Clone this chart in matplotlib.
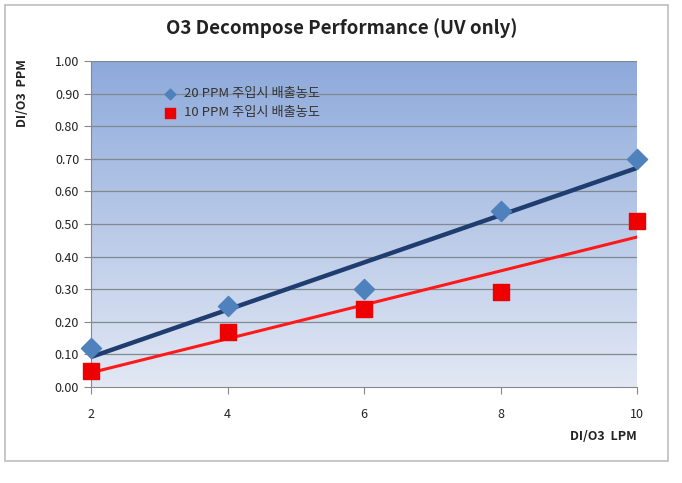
import numpy as np
import matplotlib
matplotlib.use("Agg")
import matplotlib.pyplot as plt
from matplotlib.patches import Rectangle
from matplotlib.colors import LinearSegmentedColormap

plt.rcParams['font.family'] = ['Noto Sans CJK KR', 'DejaVu Sans']

x_vals = [2, 4, 6, 8, 10]
ppm20 = [0.12, 0.25, 0.30, 0.54, 0.70]
ppm10 = [0.05, 0.17, 0.24, 0.29, 0.51]
label20 = "20 PPM 주입시 배출농도"
label10 = "10 PPM 주입시 배출농도"
title = "O3 Decompose Performance (UV only)"
ylabel = "DI/O3  PPM"
xlabel = "DI/O3  LPM"
yticks = [0.0, 0.1, 0.2, 0.3, 0.4, 0.5, 0.6, 0.7, 0.8, 0.9, 1.0]
xticks = [2, 4, 6, 8, 10]

fig = plt.figure(figsize=(6.82, 4.83), dpi=100)
fig.patches.append(Rectangle((0.008, 0.045), 0.972, 0.945, transform=fig.transFigure,
                             fill=False, edgecolor='#bdbdbd', linewidth=1.2))
ax = fig.add_axes([91/682, 1-387/483, (637-91)/682, (387-61)/483])
ax.set_xlim(2, 10)
ax.set_ylim(0, 1.0)

cmap = LinearSegmentedColormap.from_list('bg', ['#e2e8f4', '#8eaadb'])
grad = np.linspace(0, 1, 256).reshape(-1, 1)
ax.imshow(grad, extent=[2, 10, 0, 1.0], origin='lower', aspect='auto', cmap=cmap, zorder=0)

for t in yticks[1:]:
    ax.axhline(t, color='#808890', linewidth=0.9, zorder=1)

xa = np.array(x_vals, dtype=float)
c20 = np.polyfit(xa, ppm20, 1)
c10 = np.polyfit(xa, ppm10, 1)
ax.plot(xa, np.polyval(c20, xa), color='#1f3d6e', linewidth=3.2, zorder=3)
ax.plot(xa, np.polyval(c10, xa), color='#ff1a1a', linewidth=2.2, zorder=3)

ax.scatter(x_vals, ppm20, marker='D', s=105, color='#4f81bd', zorder=4, clip_on=False, label=label20)
ax.scatter(x_vals, ppm10, marker='s', s=130, color='#ee0000', zorder=5, clip_on=False, label=label10)

ax.set_xticks(xticks)
ax.set_xticklabels([str(v) for v in xticks])
ax.set_yticks(yticks)
ax.set_yticklabels([f"{v:.2f}" for v in yticks])
ax.tick_params(axis='both', labelsize=9, color='#888888', length=5, labelcolor='#222222')
ax.tick_params(axis='x', pad=10)
for s in ['top', 'right']:
    ax.spines[s].set_visible(False)
ax.spines['left'].set_color('#888888')
ax.spines['bottom'].set_color('#888888')

leg = ax.legend(loc='upper left', bbox_to_anchor=(0.11, 0.935), frameon=False, fontsize=9.5,
                handletextpad=0.1, labelspacing=0.45, borderaxespad=0)
leg.legend_handles[0].set_sizes([30])
leg.legend_handles[1].set_sizes([55])
for t in leg.get_texts():
    t.set_color('#333333')

fig.text(342/682, 1-28/483, title, ha='center', va='center', fontsize=13.5, fontweight='bold',
         color='#222222')
fig.text(22/682, 1-93/483, ylabel, ha='center', va='center', rotation=90, fontsize=9,
         fontweight='bold', color='#222222')
fig.text(637/682, 1-436/483, xlabel, ha='right', va='center', fontsize=9, fontweight='bold',
         color='#222222')

fig.savefig('out.png', dpi=100)
